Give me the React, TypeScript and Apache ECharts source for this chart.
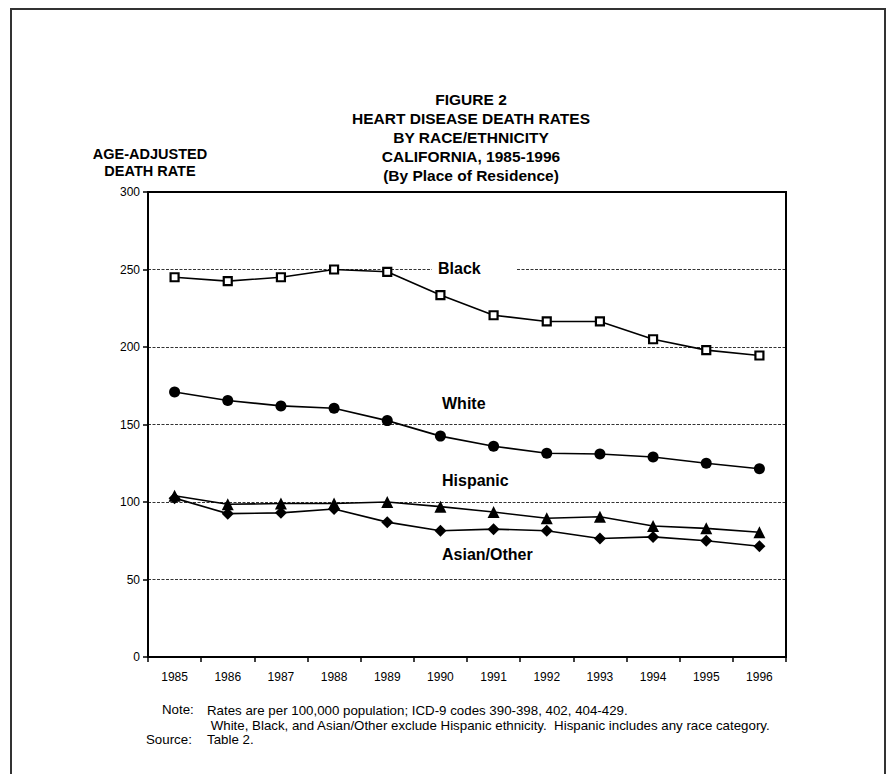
import React, { useEffect, useRef } from "react";
import * as echarts from "echarts";

const years = ["1985", "1986", "1987", "1988", "1989", "1990", "1991", "1992", "1993", "1994", "1995", "1996"];
const black = [245, 242.5, 245, 250, 248.5, 233.5, 220.5, 216.5, 216.5, 205, 198, 194.5];
const white = [171, 165.5, 162, 160.5, 152.5, 142.5, 136, 131.5, 131, 129, 125, 121.5];
const hispanic = [104, 98.5, 99, 99, 100, 97, 93.5, 89.5, 90.5, 84.5, 83, 80.5];
const asianOther = [102.5, 92.5, 93, 95.5, 87, 81.5, 82.5, 81.5, 76.5, 77.5, 75, 71.5];
const yTicks = [0, 50, 100, 150, 200, 250, 300];

const titleLines = [
  "FIGURE 2",
  "HEART DISEASE DEATH RATES",
  "BY RACE/ETHNICITY",
  "CALIFORNIA, 1985-1996",
  "(By Place of Residence)",
];
const yAxisTitle = ["AGE-ADJUSTED", "DEATH RATE"];
const noteLines = [
  "Rates are per 100,000 population; ICD-9 codes 390-398, 402, 404-429.",
  " White, Black, and Asian/Other exclude Hispanic ethnicity.  Hispanic includes any race category.",
];
const sourceText = "Table 2.";

const FONT = "'Liberation Sans', Arial, Helvetica, sans-serif";

export default function App() {
  const ref = useRef<HTMLDivElement>(null);
  useEffect(() => {
    if (!ref.current) return;
    const chart = echarts.init(ref.current, null, { renderer: "svg" });
    const lineStyle = { color: "#000", width: 1.6 };
    const mkSeries = (name: string, data: number[], symbol: string, size: number, fill: string) => ({
      name,
      type: "line",
      data,
      symbol,
      symbolSize: size,
      showAllSymbol: true,
      lineStyle,
      itemStyle: { color: fill, borderColor: "#000", borderWidth: fill === "#fff" ? 2.2 : 0 },
      emphasis: { disabled: true },
      z: 3,
    });
    chart.setOption({
      animation: false,
      backgroundColor: "#fff",
      grid: {
        left: 148,
        top: 192,
        right: 109,
        bottom: 117,
        show: true,
        borderColor: "#000",
        borderWidth: 2,
        backgroundColor: "transparent",
      },
      xAxis: {
        type: "category",
        data: years,
        boundaryGap: true,
        axisLine: { show: true, lineStyle: { color: "#000", width: 2 } },
        axisTick: { show: true, length: 5, lineStyle: { color: "#000", width: 1.5 } },
        axisLabel: { color: "#000", fontSize: 12, fontFamily: FONT, margin: 14 },
        splitLine: { show: false },
      },
      yAxis: {
        type: "value",
        min: 0,
        max: 300,
        interval: 50,
        axisLine: { show: true, lineStyle: { color: "#000", width: 2 } },
        axisTick: { show: true, length: 5, lineStyle: { color: "#000", width: 1.5 } },
        axisLabel: {
          color: "#000",
          fontSize: 12,
          fontFamily: FONT,
          margin: 8,
          formatter: (v: number) => (yTicks.includes(v) ? String(v) : ""),
        },
        splitLine: { show: true, lineStyle: { color: "#000", width: 0.8, type: [3, 1.5] } },
      },
      series: [
        mkSeries("Black", black, "rect", 8, "#fff"),
        mkSeries("White", white, "circle", 11, "#000"),
        mkSeries("Hispanic", hispanic, "triangle", 12, "#000"),
        mkSeries("Asian/Other", asianOther, "diamond", 12, "#000"),
      ],
      graphic: [
        {
          type: "rect",
          shape: { x: 11, y: 9, width: 874, height: 800 },
          style: { fill: "none", stroke: "#333", lineWidth: 2 },
          silent: true,
          z: 0,
        },
        {
          type: "text",
          x: 471,
          y: 90,
          style: {
            text: titleLines.join("\n"),
            font: `bold 15.5px ${FONT}`,
            fill: "#000",
            textAlign: "center",
            lineHeight: 19,
          },
        },
        {
          type: "text",
          x: 150,
          y: 146,
          style: {
            text: yAxisTitle.join("\n"),
            font: `bold 14.5px ${FONT}`,
            fill: "#000",
            textAlign: "center",
            lineHeight: 16.5,
          },
        },
        {
          type: "text",
          x: 432,
          y: 259,
          z: 10,
          style: {
            text: "Black",
            font: `bold 16px ${FONT}`,
            fill: "#000",
            backgroundColor: "#fff",
            padding: [1, 36, 1, 6],
          },
        },
        {
          type: "text",
          x: 442,
          y: 395,
          z: 10,
          style: { text: "White", font: `bold 16px ${FONT}`, fill: "#000" },
        },
        {
          type: "text",
          x: 442,
          y: 472,
          z: 10,
          style: { text: "Hispanic", font: `bold 16px ${FONT}`, fill: "#000" },
        },
        {
          type: "text",
          x: 442,
          y: 546,
          z: 10,
          style: { text: "Asian/Other", font: `bold 16px ${FONT}`, fill: "#000" },
        },
        {
          type: "text",
          x: 162,
          y: 703,
          style: { text: "Note:", font: `13.3px ${FONT}`, fill: "#000" },
        },
        {
          type: "text",
          x: 207,
          y: 703,
          style: { text: noteLines.join("\n"), font: `13.3px ${FONT}`, fill: "#000", lineHeight: 15 },
        },
        {
          type: "text",
          x: 146,
          y: 733,
          style: { text: "Source:", font: `13.3px ${FONT}`, fill: "#000" },
        },
        {
          type: "text",
          x: 207,
          y: 733,
          style: { text: sourceText, font: `13.3px ${FONT}`, fill: "#000" },
        },
      ],
    });
    return () => chart.dispose();
  }, []);
  return (
    <div
      ref={ref}
      style={{ position: "fixed", left: 0, top: 0, width: 895, height: 774, background: "#fff" }}
    />
  );
}
